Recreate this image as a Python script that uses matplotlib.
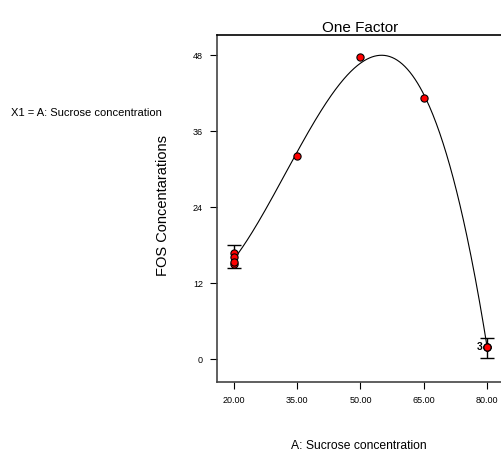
import numpy as np
import matplotlib.pyplot as plt

plt.rcParams['font.family'] = ['Liberation Sans Narrow', 'Liberation Sans', 'DejaVu Sans']

# design points (A: sucrose concentration, FOS response)
x_pts = [20, 20, 20, 20, 35, 50, 65, 80, 80, 80]
y_pts = [16.8, 15.0, 16.1, 15.4, 32.1, 47.7, 41.2, 2.0, 2.0, 2.0]

# replicated points with error bars
bar_x = [20, 80]
bar_mid = [16.2, 1.8]
bar_half = [1.8, 1.6]

xticks = [20, 35, 50, 65, 80]
xtick_labels = ['20.00', '35.00', '50.00', '65.00', '80.00']
yticks = [0, 12, 24, 36, 48]

# cubic model fitted to the design points
coef = np.polyfit(x_pts, y_pts, 3)
xs = np.linspace(20, 80, 300)
ys = np.polyval(coef, xs)

fig = plt.figure(figsize=(5.02, 4.55), dpi=100)
ax = fig.add_axes([0.432, 0.160, 0.572, 0.763])

ax.plot(xs, ys, color='black', lw=0.8)
ax.errorbar(bar_x, bar_mid, yerr=bar_half, fmt='none', ecolor='black',
            elinewidth=1.0, capsize=5, capthick=1.0)
ax.plot(x_pts, y_pts, 'o', color='red', markeredgecolor='black',
        markeredgewidth=0.8, markersize=5.2, linestyle='none')
ax.text(79.0, 2.0, '3', fontsize=7.5, fontweight='bold', ha='right', va='center')

ax.set_xlim(16, 84)
ax.set_ylim(-3.6, 51.2)
ax.set_xticks(xticks)
ax.set_xticklabels(xtick_labels)
ax.set_yticks(yticks)
ax.tick_params(labelsize=6.5, length=5, width=0.8, pad=5)

for s in ['left', 'bottom']:
    ax.spines[s].set_color('#444444')
    ax.spines[s].set_linewidth(1.2)
ax.spines['top'].set_linewidth(1.2)
ax.spines['right'].set_visible(False)

ax.set_title('One Factor', fontsize=11, pad=2)
fig.text(0.325, 0.549, 'FOS Concentarations', rotation=90, fontsize=10.5,
         ha='center', va='center')
fig.text(0.715, 0.019, 'A: Sucrose concentration', fontsize=8.7,
         ha='center', va='center')
fig.text(0.022, 0.752, 'X1 = A: Sucrose concentration', fontsize=8,
         ha='left', va='center')

fig.savefig('out.png', dpi=100)
